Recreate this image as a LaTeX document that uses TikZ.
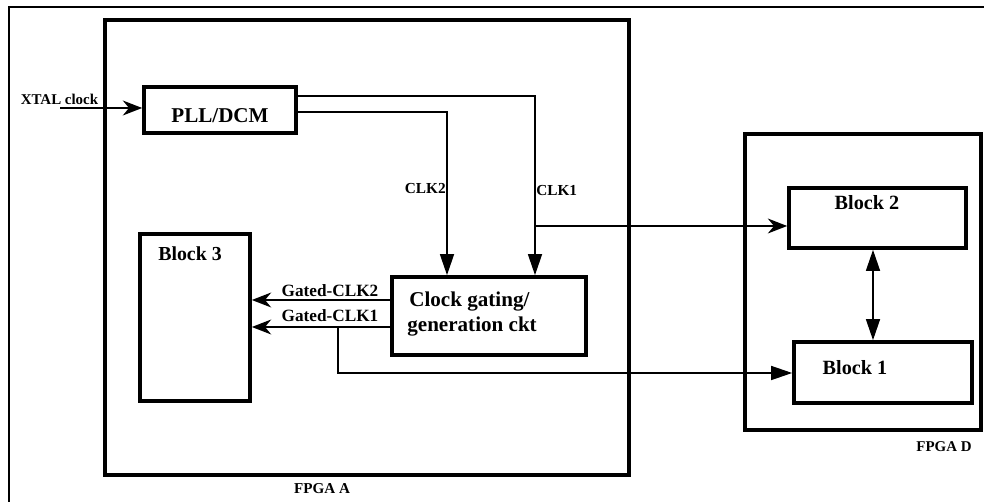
\documentclass[tikz,border=0pt]{standalone}
\usepackage{fontspec}
\setmainfont{Liberation Serif}
\usetikzlibrary{arrows.meta}
\begin{document}
\begin{tikzpicture}[x=0.02cm,y=-0.02cm,
  bx/.style={draw=black, line width=2.1pt, inner sep=0pt},
  wire/.style={line width=0.85pt},
  sarr/.style={wire, -{Stealth[length=11pt,width=8.5pt,inset=3.5pt]}},
  tarr/.style={wire, -{Triangle[length=12pt,width=8pt]}},
  darr/.style={wire, {Triangle[length=12pt,width=8pt]}-{Triangle[length=12pt,width=8pt]}},
  lbl/.style={font=\bfseries\fontsize{#1}{#1}\selectfont, inner sep=0pt}]
\useasboundingbox (0,0) rectangle (984,502);
% outer frame
\draw[line width=1.1pt] (9,502) -- (9,7) -- (984,7);
% boxes
\node[bx, minimum width=10.48cm, minimum height=9.1cm] (fa) at (367,247.5) {};
\node[bx, minimum width=4.72cm, minimum height=5.92cm] (fd) at (863,282) {};
\node[bx, minimum width=3.04cm, minimum height=0.92cm] (pll) at (220,110) {};
\node[bx, minimum width=3.88cm, minimum height=1.56cm] (cg) at (489,316) {};
\node[bx, minimum width=2.2cm, minimum height=3.34cm] (b3) at (195,317.5) {};
\node[bx, minimum width=3.54cm, minimum height=1.2cm] (b2) at (877.5,218) {};
\node[bx, minimum width=3.56cm, minimum height=1.22cm] (b1) at (883,372.5) {};
% texts
\node[lbl=12] (plltext) at (220,116) {PLL/DCM};
\node[lbl=12, anchor=base west] (cgt1) at (409,307) {Clock gating/};
\node[lbl=12, anchor=base west] (cgt2) at (407,332) {generation ckt};
\node[lbl=11.3] (b3t) at (190,254) {Block 3};
\node[lbl=11.5] (b2t) at (867,203) {Block 2};
\node[lbl=11.5] (b1t) at (855,368) {Block 1};
\node[lbl=8.6] (fat) at (322,489) {FPGA A};
\node[lbl=8.5] (fdt) at (944,447) {FPGA D};
\node[lbl=8.5] (xt) at (59.5,99) {XTAL clock};
\node[lbl=8.7, anchor=east] (clk2) at (446,189) {CLK2};
\node[lbl=8.7, anchor=west] (clk1) at (536,191) {CLK1};
\node[lbl=9.8] (g2t) at (330,291) {Gated-CLK2};
\node[lbl=9.8] (g1t) at (330,316) {Gated-CLK1};
% connectors
\coordinate (xin) at (60,108);
\draw[sarr] (xin) -- (xin -| pll.west);
\coordinate (k1) at (535,96);
\coordinate (k2) at (447,112);
\draw[tarr] (pll.east |- k1) -- (k1) -- (k1 |- cg.north);
\draw[tarr] (pll.east |- k2) -- (k2) -- (k2 |- cg.north);
\coordinate (br1) at (535,226);
\draw[sarr] (br1) -- (br1 -| b2.west);
\coordinate (g2) at (0,300);
\coordinate (g1) at (0,327);
\draw[sarr] (cg.west |- g2) -- (b3.east |- g2);
\draw[sarr] (cg.west |- g1) -- (b3.east |- g1);
\coordinate (br2) at (338,327);
\coordinate (br2b) at (338,373);
\draw[tarr] (br2) -- (br2b) -- (br2b -| b1.west);
\coordinate (dx) at (873,0);
\draw[darr] (b2.south -| dx) -- (b1.north -| dx);
\end{tikzpicture}
\end{document}
